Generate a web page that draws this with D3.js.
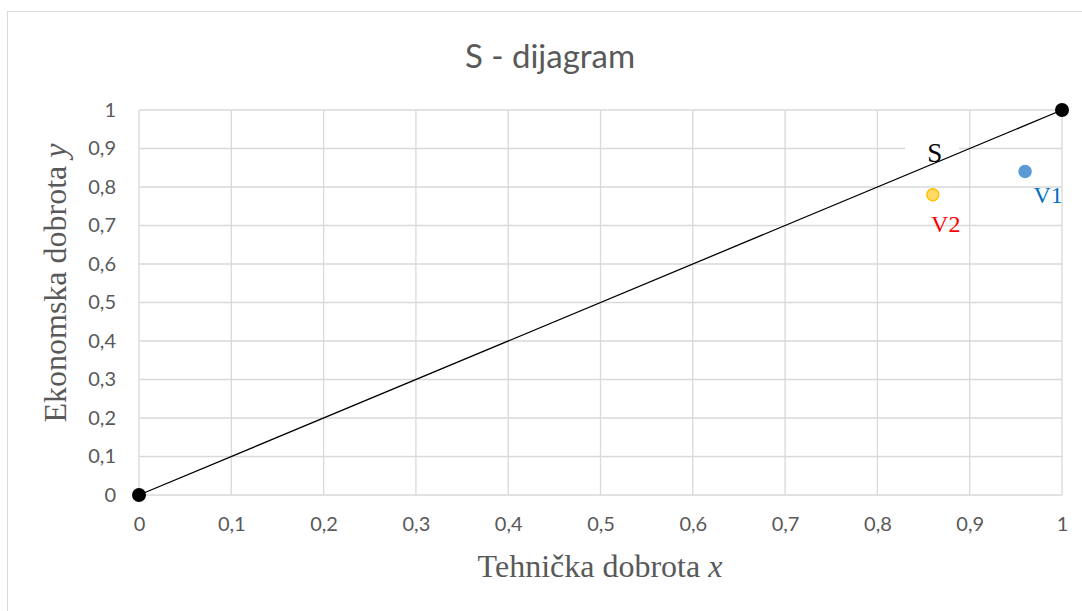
<!DOCTYPE html>
<html lang="en">
<head>
    <meta charset="UTF-8">
    <title>S - dijagram</title>
    <script src="https://d3js.org/d3.v7.min.js"></script>
    <style>
        body { margin: 0; background: white; }
        .tick text { font-family: Lato, "Open Sans", sans-serif; font-size: 20px; fill: #595959; }
    </style>
</head>
<body>
    <script>
        var width = 1082
        var height = 611
        var margin = { left: 139, right: 20, top: 110, bottom: 116 }

        // data
        var ticks = [0, 0.1, 0.2, 0.3, 0.4, 0.5, 0.6, 0.7, 0.8, 0.9, 1]
        var sLine = [[0, 0], [1, 1]]
        var variants = ["V1", "V2"]
        var variantX = [0.96, 0.86]
        var variantY = [0.84, 0.78]
        var variantFill = ["#5b9bd5", "#ffd966"]
        var variantStroke = ["#5b9bd5", "#ffc000"]
        var labelColor = ["#0070c0", "#ff0000"]

        const svg = d3.select("body").append("svg")
            .attr("width", width)
            .attr("height", height)

        svg.append("rect")
            .attr("x", 7.5).attr("y", 11.5)
            .attr("width", 1100).attr("height", 700)
            .attr("fill", "white").attr("stroke", "#d9d9d9")

        var x = d3.scaleLinear().domain([0, 1]).range([margin.left, 1062])
        var y = d3.scaleLinear().domain([0, 1]).range([495, margin.top])

        var fmt = function (d) { return d3.format("")(d).replace(".", ",") }

        // grid
        svg.append("g").selectAll("line").data(ticks).enter().append("line")
            .attr("x1", d => x(d)).attr("x2", d => x(d))
            .attr("y1", y(0)).attr("y2", y(1))
            .attr("stroke", "#d9d9d9").attr("stroke-width", 1.3)
        svg.append("g").selectAll("line").data(ticks).enter().append("line")
            .attr("x1", x(0)).attr("x2", x(1))
            .attr("y1", d => y(d)).attr("y2", d => y(d))
            .attr("stroke", "#d9d9d9").attr("stroke-width", 1.3)

        var xAxis = svg.append("g")
            .attr("transform", "translate(0," + (y(0) + 10) + ")")
            .call(d3.axisBottom(x).tickValues(ticks).tickFormat(fmt).tickSize(0).tickPadding(12))
        var yAxis = svg.append("g")
            .attr("transform", "translate(" + (x(0) - 23) + ",0)")
            .call(d3.axisLeft(y).tickValues(ticks).tickFormat(fmt).tickSize(0).tickPadding(0))
        xAxis.select(".domain").remove()
        yAxis.select(".domain").remove()

        // S label with white background over gridline
        svg.append("rect")
            .attr("x", x(0.83)).attr("y", y(0.905))
            .attr("width", 54).attr("height", 14)
            .attr("fill", "white")

        // S line
        svg.append("line")
            .attr("x1", x(sLine[0][0])).attr("y1", y(sLine[0][1]))
            .attr("x2", x(sLine[1][0])).attr("y2", y(sLine[1][1]))
            .attr("stroke", "black").attr("stroke-width", 1.3)
        svg.selectAll(".end").data(sLine).enter().append("circle")
            .attr("cx", d => x(d[0])).attr("cy", d => y(d[1]))
            .attr("r", 7).attr("fill", "black")

        svg.append("text")
            .text("S")
            .attr("x", x(0.86) + 2).attr("y", y(0.89) + 10)
            .attr("text-anchor", "middle")
            .attr("font-family", "Liberation Serif, serif")
            .attr("font-size", 27).attr("fill", "black")

        // variant points
        svg.selectAll(".pt").data(variants).enter().append("circle")
            .attr("cx", (d, i) => x(variantX[i])).attr("cy", (d, i) => y(variantY[i]))
            .attr("r", 6)
            .attr("fill", (d, i) => variantFill[i])
            .attr("stroke", (d, i) => variantStroke[i]).attr("stroke-width", 1.5)

        svg.selectAll(".lbl").data(variants).enter().append("text")
            .text(d => d)
            .attr("x", (d, i) => x(variantX[i]) + (i == 0 ? 23 : 13))
            .attr("y", (d, i) => y(variantY[i]) + (i == 0 ? 31 : 37))
            .attr("text-anchor", "middle")
            .attr("font-family", "Liberation Serif, serif")
            .attr("font-size", 24)
            .attr("fill", (d, i) => labelColor[i])

        // titles
        svg.append("text")
            .text("S - dijagram")
            .attr("x", 550).attr("y", 68)
            .attr("text-anchor", "middle")
            .attr("font-family", "Lato, 'Open Sans', sans-serif")
            .attr("font-size", 33).attr("fill", "#595959")

        var xt = svg.append("text")
            .attr("x", 600).attr("y", 577)
            .attr("text-anchor", "middle")
            .attr("font-family", "Liberation Serif, serif")
            .attr("font-size", 32).attr("fill", "#595959")
        xt.append("tspan").text("Tehnička dobrota ")
        xt.append("tspan").text("x").attr("font-style", "italic")

        var yt = svg.append("text")
            .attr("transform", "translate(66," + 283 + ") rotate(-90)")
            .attr("text-anchor", "middle")
            .attr("font-family", "Liberation Serif, serif")
            .attr("font-size", 32).attr("fill", "#595959")
        yt.append("tspan").text("Ekonomska dobrota ")
        yt.append("tspan").text("y").attr("font-style", "italic")
    </script>
</body>
</html>
